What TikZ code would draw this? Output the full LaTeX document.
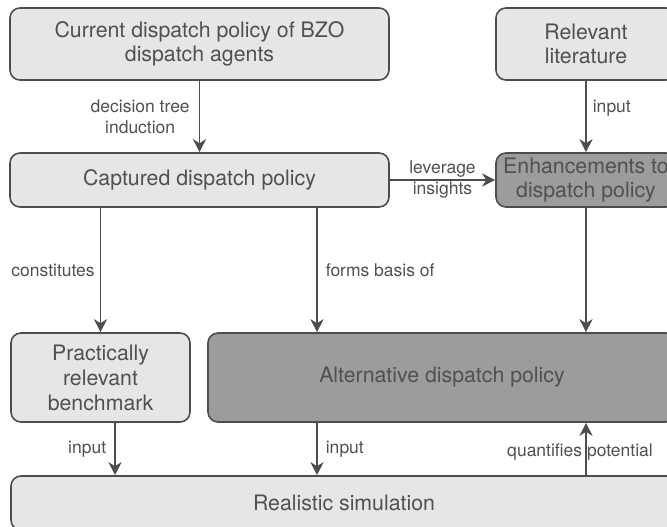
\documentclass[tikz,border=0pt]{standalone}
\usepackage{fontspec}
\setmainfont{TeX Gyre Heros}
\usetikzlibrary{arrows.meta}
\definecolor{linegray}{HTML}{4D4D4D}
\definecolor{textgray}{HTML}{505050}
\definecolor{lightfill}{HTML}{E6E6E6}
\definecolor{darkfill}{HTML}{9C9C9C}
\begin{document}
\begin{tikzpicture}[x=1pt, y=-1pt,
    box/.style={draw=linegray, line width=1.6pt, rounded corners=10pt, fill=lightfill,
      text=textgray, align=center, inner sep=0pt, font=\fontsize{21.3}{24.5}\selectfont},
    darkbox/.style={box, fill=darkfill},
    flow/.style={draw=linegray, line width=1.6pt, -{Stealth[length=13pt, width=13pt, inset=4pt]}},
    lbl/.style={text=textgray, inner sep=1pt, align=center, font=\fontsize{17.5}{21}\selectfont}]
  \clip (0,0) rectangle (667,527);
  % Define boxes
  \node[box, minimum width=379pt, minimum height=72pt] (current) at (199.5,44) {Current dispatch policy of BZO\\dispatch agents};
  \node[box, minimum width=180pt, minimum height=72pt] (literature) at (586,44) {Relevant\\literature};
  \node[box, minimum width=379pt, minimum height=54pt] (captured) at (199.5,180) {Captured dispatch policy};
  \node[darkbox, minimum width=180pt, minimum height=54pt] (enhance) at (586,180) {Enhancements to\\dispatch policy};
  \node[box, minimum width=179pt, minimum height=89pt, font=\fontsize{21.3}{25}\selectfont] (benchmark) at (100.5,377.5) {Practically\\relevant\\benchmark};
  \node[darkbox, minimum width=468pt, minimum height=89pt] (alternative) at (442,377.5) {Alternative dispatch policy};
  \node[box, minimum width=666pt, minimum height=54pt] (simulation) at (344,503) {Realistic simulation};
  \coordinate (midx) at (317,0);
  \coordinate (leftx) at (115,0);

  % Draw connectors
  \draw[flow] (current) -- (captured) node[lbl, midway, left=8pt] (dti) {decision tree\\induction};
  \draw[flow] (literature) -- (enhance) node[lbl, pos=0.38, right=5pt] (litin) {input};
  \draw[flow] (captured) -- (enhance) node[lbl, midway] (lev) {leverage\\insights};
  \draw[flow] (captured.south -| benchmark.north) -- (benchmark.north) node[lbl, midway, left=4pt] (const) {constitutes};
  \draw[flow] (captured.south -| midx) -- (alternative.north -| midx) node[lbl, midway, right=7pt] (basis) {forms basis of};
  \draw[flow] (enhance) -- (alternative.north -| enhance.south);
  \draw[flow] (benchmark.south -| leftx) -- (simulation.north -| leftx) node[lbl, midway, left=7pt] (benchin) {input};
  \draw[flow] (alternative.south -| midx) -- (simulation.north -| midx) node[lbl, midway, right=7pt] (altin) {input};
  \draw[flow] (simulation.north -| enhance.south) -- (alternative.south -| enhance.south) node[lbl, midway, xshift=-6pt, yshift=-3pt] (quant) {quantifies potential};
\end{tikzpicture}
\end{document}
